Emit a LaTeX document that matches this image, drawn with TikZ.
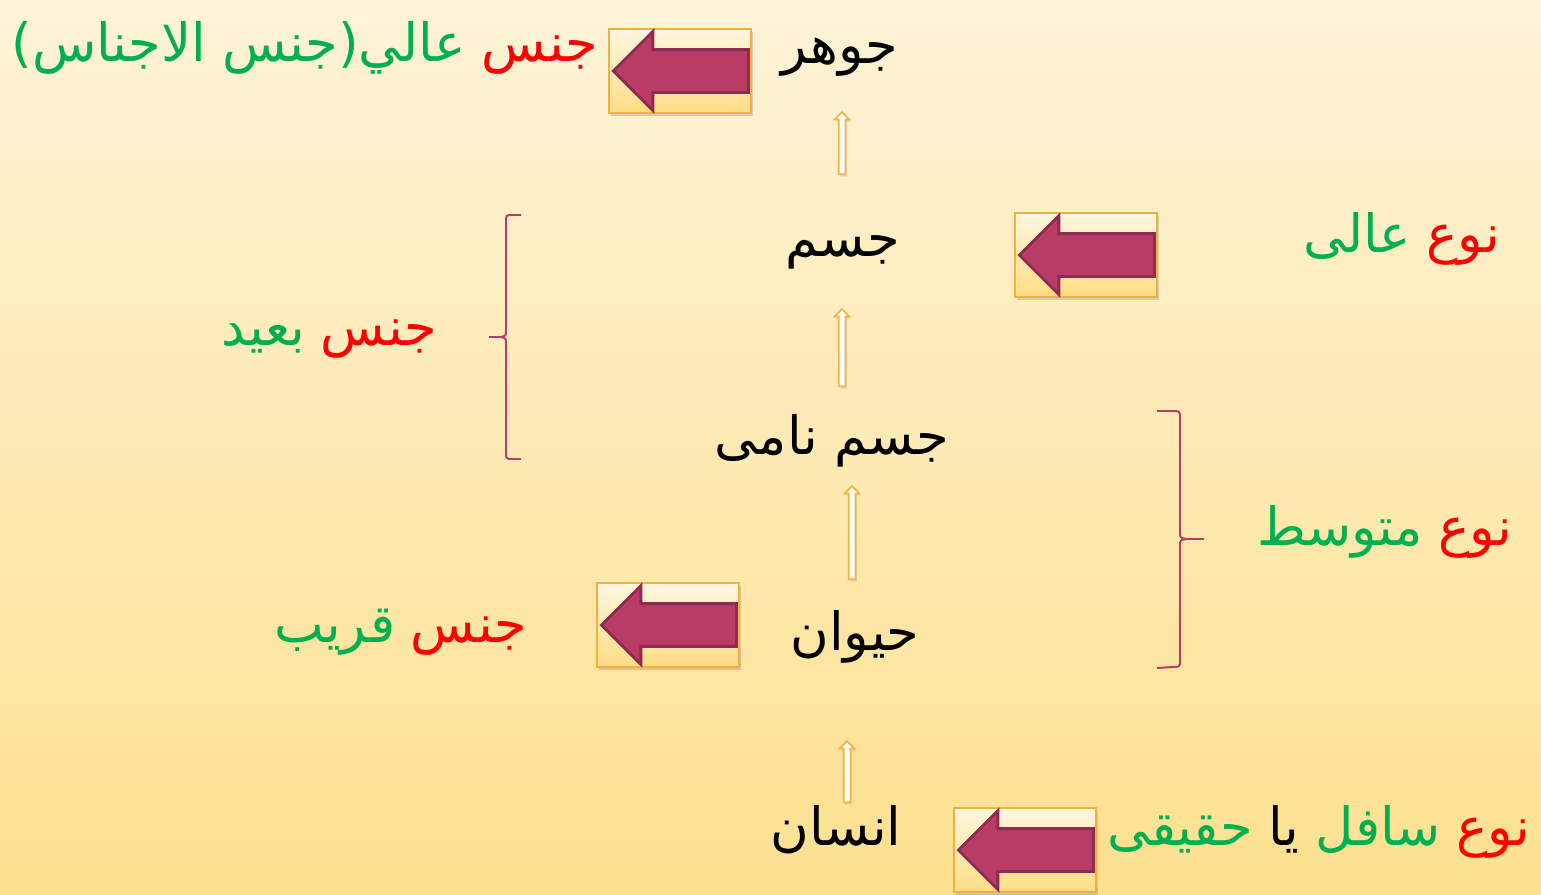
\documentclass[tikz,border=0pt]{standalone}
\usepackage{fontspec}
\newfontfamily\arabicfont[Script=Arabic]{DejaVu Sans}
\TeXXeTstate=1
\usetikzlibrary{shapes.arrows,shadows}

\definecolor{bgtop}{HTML}{FEF3D8}
\definecolor{bgbot}{HTML}{FDE08F}
\definecolor{boxedge}{HTML}{F4B03E}
\definecolor{boxtop}{HTML}{FFF6DF}
\definecolor{boxbot}{HTML}{FFDD85}
\definecolor{plum}{HTML}{B93C66}
\definecolor{plumedge}{HTML}{8E2B50}
\definecolor{grn}{HTML}{00B050}
\definecolor{upedge}{HTML}{F6B53F}

\newcommand{\rtl}[1]{\beginR #1\endR}

\tikzset{
  word/.style={font=\fontsize{30}{34}\selectfont\arabicfont, inner sep=0pt, anchor=base},
  first/.style={word, anchor=base east},
  next/.style={word, anchor=base east, xshift=-0.3cm},
  arrowbox/.style={rectangle, draw=boxedge, line width=1.2pt, top color=boxtop, bottom color=boxbot,
    minimum width=2.84cm, minimum height=1.68cm,
    drop shadow={opacity=0.3, shadow xshift=0.04cm, shadow yshift=-0.06cm}},
  leftarrow/.style={single arrow, shape border rotate=180, fill=plum, draw=plumedge, line width=1.6pt,
    minimum height=2.7cm, inner sep=0.4cm, single arrow head extend=0.36cm, anchor=tip},
  uparrow/.style={single arrow, shape border rotate=90, fill=white, draw=upedge, line width=1pt,
    minimum height=#1, inner sep=0.05cm, single arrow head extend=0.08cm, anchor=tail,
    drop shadow={opacity=0.2, shadow xshift=0.03cm, shadow yshift=-0.05cm}},
  bracket/.style={draw=plum, line width=1.1pt}
}

\begin{document}
\begin{tikzpicture}[x=0.02cm, y=-0.02cm]
\shade[top color=bgtop, bottom color=bgbot] (0,0) rectangle (1541,894);
\useasboundingbox (0,0) rectangle (1541,894);

% the chain of concepts
\node[word] (jawhar) at (840,63) {\rtl{جوهر}};
\node[word] (jism) at (843,256) {\rtl{جسم}};
\node[word] (nami) at (832,454) {\rtl{جسم نامى}};
\node[word] (haywan) at (855,650) {\rtl{حيوان}};
\node[word] (insan) at (836,845) {\rtl{انسان}};

% small arrows between them
\node[uparrow=1.24cm] (up1) at (842,175) {};
\node[uparrow=1.54cm] (up2) at (842,387) {};
\node[uparrow=1.86cm] (up3) at (852,580) {};
\node[uparrow=1.22cm] (up4) at (847,803) {};

% pointer boxes
\node[arrowbox] (box1) at (680,71) {};
\node[leftarrow] (arr1) at ([xshift=2]box1.west) {};
\node[arrowbox] (box2) at (1086,255) {};
\node[leftarrow] (arr2) at ([xshift=2]box2.west) {};
\node[arrowbox] (box3) at (668,625) {};
\node[leftarrow] (arr3) at ([xshift=2]box3.west) {};
\node[arrowbox] (box4) at (1025,850) {};
\node[leftarrow] (arr4) at ([xshift=2]box4.west) {};

% names
\node[first, text=red] (top1) at (598,61) {\rtl{جنس}};
\node[next, text=grn] (top2) at (top1.base west) {\rtl{عالي(جنس الاجناس)}};

\node[first, text=red] (high1) at (1500,252) {\rtl{نوع}};
\node[next, text=grn] (high2) at (high1.base west) {\rtl{عالى}};

\node[first, text=red] (far1) at (437,345) {\rtl{جنس}};
\node[next, text=grn] (far2) at (far1.base west) {\rtl{بعيد}};

\node[first, text=red] (mid1) at (1512,545) {\rtl{نوع}};
\node[next, text=grn] (mid2) at (mid1.base west) {\rtl{متوسط}};

\node[first, text=red] (near1) at (527,642) {\rtl{جنس}};
\node[next, text=grn] (near2) at (near1.base west) {\rtl{قريب}};

\node[first, text=red] (low1) at (1530,845) {\rtl{نوع}};
\node[next, text=grn] (low2) at (low1.base west) {\rtl{سافل}};
\node[next] (low3) at (low2.base west) {\rtl{يا}};
\node[next, text=grn] (low4) at (low3.base west) {\rtl{حقيقى}};

% braces
\draw[bracket] (521,215) -- (513,215) .. controls (506,215) .. (506,222) -- (506,330)
  .. controls (506,336) .. (500,337) -- (489,337) -- (500,337)
  .. controls (506,338) .. (506,344) -- (506,452) .. controls (506,459) .. (513,459) -- (521,459);
\draw[bracket] (1157,411) -- (1172,411) .. controls (1180,411) .. (1180,419) -- (1180,532)
  .. controls (1180,538) .. (1187,539) -- (1204,539) -- (1187,539)
  .. controls (1180,540) .. (1180,546) -- (1180,660) .. controls (1180,667) .. (1172,667) -- (1157,668);
\end{tikzpicture}
\end{document}
